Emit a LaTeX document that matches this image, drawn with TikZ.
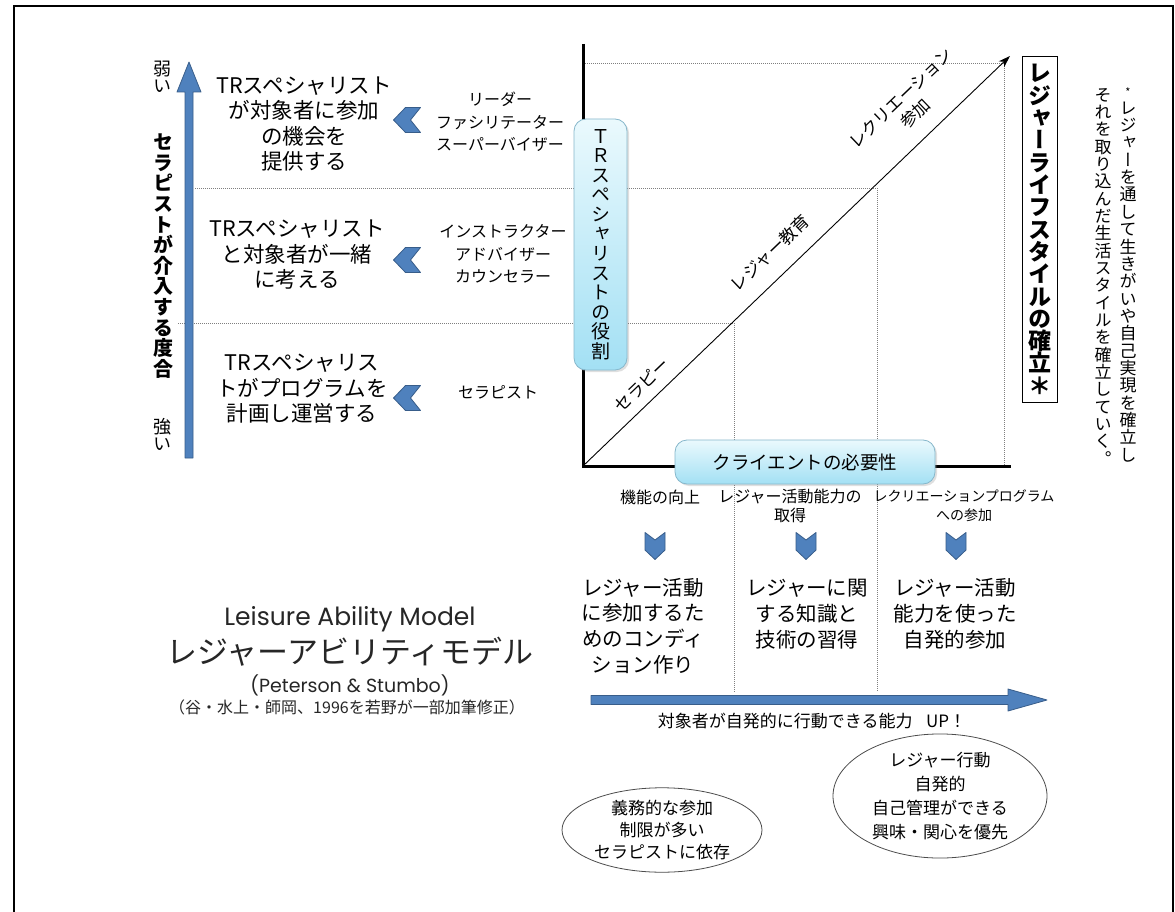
\documentclass[tikz,border=0pt]{standalone}
\usepackage{fontspec}
\setmainfont{Noto Sans CJK JP}
\newfontfamily\tatefont[RawFeature={+vert}]{Noto Sans CJK JP}
\newfontfamily\latinfont{Poppins}
\usetikzlibrary{shadows,shapes.geometric,arrows.meta}
\definecolor{arrowblue}{HTML}{4F81BD}
\definecolor{arrowedge}{HTML}{385D8A}
\definecolor{boxtop}{HTML}{EAF9FD}
\definecolor{boxbot}{HTML}{A3E0F4}
\definecolor{boxedge}{HTML}{86B7CB}
\definecolor{dotgray}{HTML}{7F7F7F}
\newcommand\fs[2]{\fontsize{#1}{#2}\selectfont}
\makeatletter
\newcommand\tate[2][1.0]{\vbox{\baselineskip=#1em\lineskiplimit=-100pt\lineskip=0pt\@tfor\tate@c:=#2\do{\hbox to 1em{\hss\tate@c\hss}}}}
\makeatother
\tikzset{
  dotline/.style={draw=dotgray, line width=0.8pt, dash pattern=on 1pt off 1pt},
  bluefill/.style={fill=arrowblue, draw=arrowedge, line width=0.8pt, line join=round},
  gradbox/.style={rounded corners=12pt, top color=boxtop, bottom color=boxbot, draw=boxedge, line width=0.8pt, inner sep=0pt,
    drop shadow={opacity=0.25, shadow xshift=2pt, shadow yshift=-2pt}},
  txt/.style={align=center, inner sep=0pt},
  oval/.style={ellipse, draw=black!70, line width=0.8pt, align=center, inner sep=0pt},
  chevL/.pic={\draw[bluefill] (-13.5,0) -- (-1.5,-12.5) -- (13.5,-12.5) -- (3.5,0) -- (13.5,12.5) -- (-1.5,12.5) -- cycle;},
  chevD/.pic={\draw[bluefill] (-10,-13.5) -- (0,-6) -- (10,-13.5) -- (10,4) -- (0,13.5) -- (-10,4) -- cycle;},
}
\begin{document}
\begin{tikzpicture}[x=1pt,y=-1pt]
\useasboundingbox (0,0) rectangle (1175,912);
\clip (0,0) rectangle (1175,912);
\fill[white] (0,0) rectangle (1175,912);
% outer frame
\draw[line width=2pt] (14,6) rectangle (1173,940);

% dotted guide lines
\draw[dotline] (583,63) -- (1004,63) -- (1004,465);
\draw[dotline] (195,188) -- (877,188) -- (877,692);
\draw[dotline] (178,323) -- (734,323) -- (734,692);

% axes
\coordinate (ytop) at (583,44);
\coordinate (orig) at (583,466);
\coordinate (xend) at (1011,466);
\draw[line width=3pt, line join=miter] (ytop) -- (orig) -- (xend);
\coordinate (diagtip) at (1010,56);
\draw[line width=0.9pt, -{Stealth[length=12pt,width=8pt]}] (orig) -- (diagtip);

% diagonal labels
\node[txt, rotate=43.8, font=\fs{17}{17}] (lab1) at (642,385) {セラピー};
\node[txt, rotate=43.8, font=\fs{17}{17}] (lab2) at (770,253) {レジャー教育};
\node[txt, rotate=43.8, font=\fs{17}{21}] (lab3) at (908,106) {レクリエーション\\参加};

% left vertical blue arrow
\draw[bluefill] (185,458) -- (185,92) -- (177,92) -- (189,62) -- (201,92) -- (193,92) -- (193,458) -- cycle;
\node[txt] (weak) at (162,77) {\tatefont\fs{18}{18}\tate[0.95]{弱い}};
\node[txt] (strong) at (162,434) {\tatefont\fs{18}{18}\tate[0.95]{強い}};
\node[txt] (axislabel) at (163,256) {\tatefont\bfseries\fs{20}{20}\tate[1.03]{セラピストが介入する度合}};

% left text blocks
\node[txt, font=\fs{21.5}{25.5}] (b1) at (304,124) {TRスペシャリスト\\が対象者に参加\\の機会を\\提供する};
\node[txt, font=\fs{21.5}{25.5}] (b2) at (297,255) {TRスペシャリスト\\と対象者が一緒\\に考える};
\node[txt, font=\fs{21.5}{25.5}] (b3) at (302,389) {TRスペシャリス\\トがプログラムを\\計画し運営する};

\pic at (407,120) {chevL};
\pic at (407,260) {chevL};
\pic at (407,398) {chevL};

% roles
\node[txt, font=\fs{16}{22.5}] (r1) at (500,122) {リーダー\\ファシリテーター\\スーパーバイザー};
\node[txt, font=\fs{16}{22.5}] (r2) at (503,254) {インストラクター\\アドバイザー\\カウンセラー};
\node[txt, font=\fs{16}{22.5}] (r3) at (498,392) {セラピスト};

% TR box
\node[gradbox, minimum width=53pt, minimum height=251pt] (trbox) at (600.5,244.5)
  {\tatefont\fs{19}{19}\tate[1.03]{ＴＲスペシャリストの役割}};

% client box
\node[gradbox, minimum width=260pt, minimum height=44pt] (client) at (805,462) {\fs{18.5}{18.5}クライエントの必要性};

% lifestyle box
\node[draw=black, line width=1pt, minimum width=35pt, minimum height=345pt, inner sep=0pt] (lifestyle) at (1039.5,229.5)
  {\tatefont\bfseries\fs{23}{23}\tate[0.97]{レジャーライフスタイルの確立＊}};

% right note
\node[txt, anchor=north] (note1) at (1128,88) {\tatefont\fs{17}{17}\tate[1.02]{{\fs{11}{11}*}レジャーを通して生きがいや自己実現を確立し}};
\node[txt, anchor=north] (note2) at (1103,88) {\tatefont\fs{17}{17}\tate[1.02]{それを取り込んだ生活スタイルを確立していく。}};

% column headers
\node[txt, font=\fs{16}{19}] (h1) at (660,497) {機能の向上};
\node[txt, font=\fs{16}{19}] (h2) at (790,506) {レジャー活動能力の\\取得};
\node[txt, font=\fs{14}{19}] (h3) at (964,506) {レクリエーションプログラム\\への参加};

\pic at (655,546) {chevD};
\pic at (806,546) {chevD};
\pic at (956,546) {chevD};

% column texts
\node[txt, font=\fs{20.5}{25.7}] (c1) at (643,626) {レジャー活動\\に参加するた\\めのコンディ\\ション作り};
\node[txt, font=\fs{20.5}{25.7}] (c2) at (807,614) {レジャーに関\\する知識と\\技術の習得};
\node[txt, font=\fs{20.5}{25.7}] (c3) at (955,614) {レジャー活動\\能力を使った\\自発的参加};

% title
\node[txt, font=\latinfont\fs{25}{25}, text=black!85] (t1) at (350,619) {Leisure Ability Model};
\node[txt, font=\fs{31}{31}, text=black!85] (t2) at (350,652) {レジャーアビリティモデル};
\node[txt, font=\latinfont\fs{19}{19}, text=black!85] (t3) at (350,685) {(Peterson \& Stumbo)};
\node[txt, font=\fs{16}{16}, text=black!85] (t4) at (347,707) {（谷・水上・師岡、1996を若野が一部加筆修正）};

% bottom blue arrow
\draw[bluefill] (591,695.5) -- (1008,695.5) -- (1008,689) -- (1047,700) -- (1008,711) -- (1008,704.5) -- (591,704.5) -- cycle;
\node[txt, font=\fs{17}{17}] (uptext) at (812,721) {対象者が自発的に行動できる能力\hspace{0.8em}UP！};

% ellipses
\node[oval, minimum width=200pt, minimum height=76pt, font=\fs{17}{22}] (ov1) at (662,830) {義務的な参加\\制限が多い\\セラピストに依存};
\node[oval, minimum width=214pt, minimum height=120pt, font=\fs{17}{24}] (ov2) at (940,796) {レジャー行動\\自発的\\自己管理ができる\\興味・関心を優先};
\end{tikzpicture}
\end{document}
